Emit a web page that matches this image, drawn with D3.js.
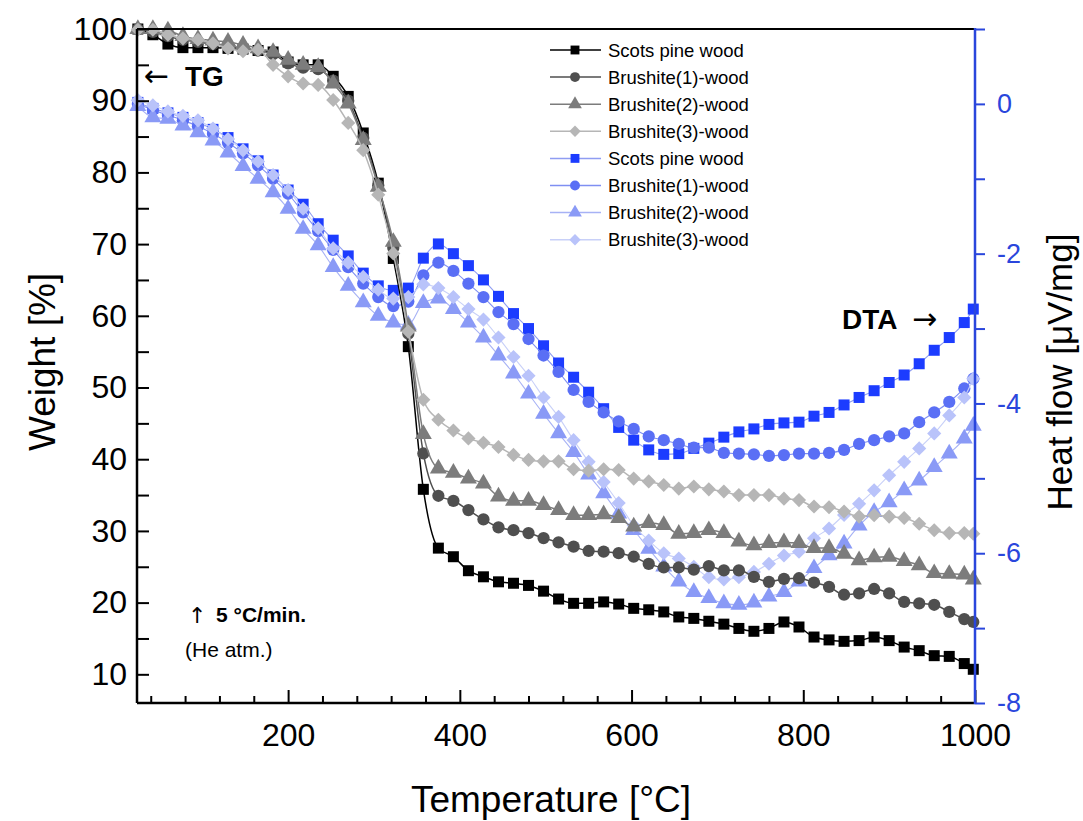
<!DOCTYPE html>
<html>
<head>
<meta charset="utf-8">
<script src="https://cdn.jsdelivr.net/npm/d3@7"></script>
<style>
  html, body { margin: 0; padding: 0; background: #fff; }
  svg { display: block; font-family: "Liberation Sans", Arial, sans-serif; }
</style>
</head>
<body>
<svg id="chart" width="1083" height="821"></svg>
<script>
// ---------------- DATA ----------------
const temperature = [25, 42.5, 60, 77.5, 95, 112.5, 130, 147.5, 165, 182.5,
  200, 217.5, 235, 252.5, 270, 287.5, 305, 322.5, 340, 357.5,
  375, 392.5, 410, 427.5, 445, 462.5, 480, 497.5, 515, 532.5,
  550, 567.5, 585, 602.5, 620, 637.5, 655, 672.5, 690, 707.5,
  725, 742.5, 760, 777.5, 795, 812.5, 830, 847.5, 865, 882.5,
  900, 917.5, 935, 952.5, 970, 987.5, 998];

const seriesNames = ["Scots pine wood", "Brushite(1)-wood", "Brushite(2)-wood", "Brushite(3)-wood"];

// TG, weight [%]
const tgScots = [100, 99.2, 97.9, 97.4, 97.4, 97.4, 97.3, 97.2, 97.0, 96.8,
  95.4, 95.0, 95.0, 93.4, 90.6, 85.5, 78.5, 68.0, 55.7, 35.8,
  27.6, 26.4, 24.45, 23.6, 22.9, 22.7, 22.4, 21.6, 20.5, 19.9,
  19.9, 20.1, 19.8, 19.2, 19.0, 18.7, 18.0, 17.8, 17.4, 17.0,
  16.4, 16.0, 16.4, 17.3, 16.6, 15.2, 14.8, 14.6, 14.7, 15.2,
  14.7, 13.8, 13.3, 12.6, 12.5, 11.5, 10.7];
const tgBrushite1 = [100, 99.6, 99.0, 98.5, 98.2, 97.9, 97.6, 97.3, 97.0, 96.5,
  95.2, 94.6, 94.4, 92.8, 90.0, 84.8, 78.2, 69.5, 57.5, 40.8,
  34.9, 34.2, 32.9, 31.6, 30.5, 30.1, 29.7, 29.0, 28.4, 27.8,
  27.2, 27.1, 26.9, 26.4, 25.4, 24.9, 24.9, 24.6, 25.1, 24.5,
  24.5, 23.6, 22.9, 23.3, 23.4, 22.8, 22.2, 21.1, 21.3, 21.9,
  21.3, 20.1, 19.9, 19.7, 18.7, 17.7, 17.3];
const tgBrushite2 = [100, 100, 99.8, 99.0, 98.6, 98.4, 98.2, 97.8, 97.3, 96.8,
  95.7, 95.0, 94.7, 92.4, 89.6, 84.5, 78.0, 70.3, 58.5, 43.5,
  38.7, 38.1, 37.3, 36.6, 34.8, 34.2, 34.2, 33.6, 32.9, 32.2,
  32.2, 32.3, 31.8, 30.6, 31.1, 30.8, 29.6, 29.7, 30.1, 29.7,
  28.5, 28.0, 28.3, 28.4, 28.3, 27.6, 27.6, 26.8, 25.9, 26.3,
  26.4, 25.8, 25.2, 24.1, 24.0, 23.9, 23.2];
const tgBrushite3 = [99.9, 99.9, 99.2, 98.7, 98.5, 98.0, 97.3, 96.9, 97.1, 95.0,
  93.4, 92.4, 92.2, 90.1, 86.9, 83.1, 76.9, 68.7, 57.8, 48.3,
  45.5, 44.0, 42.9, 42.3, 41.7, 40.6, 39.9, 39.7, 39.7, 38.6,
  38.4, 38.6, 38.5, 37.3, 36.9, 36.4, 35.9, 36.2, 35.8, 35.5,
  35.0, 35.0, 35.0, 34.5, 34.3, 33.4, 33.3, 32.7, 32.0, 32.2,
  32.0, 31.8, 31.0, 30.1, 29.7, 29.7, 29.6];

// DTA, heat flow [µV/mg]
const dtaScots = [0.02, -0.06, -0.12, -0.18, -0.25, -0.34, -0.45, -0.6, -0.76, -0.95,
  -1.15, -1.34, -1.60, -1.82, -2.03, -2.26, -2.43, -2.49, -2.46, -2.06,
  -1.87, -2.0, -2.16, -2.35, -2.57, -2.80, -3.0, -3.23, -3.46, -3.65,
  -3.85, -4.07, -4.32, -4.49, -4.62, -4.68, -4.67, -4.60, -4.53, -4.45,
  -4.38, -4.34, -4.28, -4.26, -4.25, -4.17, -4.12, -4.02, -3.92, -3.83,
  -3.72, -3.62, -3.47, -3.29, -3.12, -2.92, -2.74];
const dtaBrushite1 = [0.0, -0.08, -0.15, -0.22, -0.30, -0.40, -0.52, -0.66, -0.82, -1.0,
  -1.2, -1.45, -1.70, -1.95, -2.18, -2.40, -2.58, -2.70, -2.64, -2.29,
  -2.12, -2.23, -2.40, -2.58, -2.78, -2.94, -3.14, -3.36, -3.58, -3.82,
  -3.98, -4.12, -4.24, -4.34, -4.44, -4.49, -4.54, -4.59, -4.59, -4.66,
  -4.67, -4.68, -4.70, -4.69, -4.67, -4.67, -4.66, -4.62, -4.54, -4.49,
  -4.44, -4.40, -4.25, -4.12, -3.98, -3.80, -3.67];
const dtaBrushite2 = [-0.03, -0.18, -0.20, -0.29, -0.38, -0.49, -0.65, -0.83, -1.0, -1.18,
  -1.4, -1.67, -1.89, -2.18, -2.43, -2.65, -2.83, -2.92, -2.95, -2.66,
  -2.60, -2.74, -2.92, -3.12, -3.36, -3.60, -3.87, -4.14, -4.40, -4.65,
  -4.95, -5.2, -5.47, -5.69, -5.94, -6.18, -6.38, -6.52, -6.60, -6.67,
  -6.69, -6.66, -6.58, -6.52, -6.38, -6.20, -6.03, -5.87, -5.63, -5.45,
  -5.32, -5.16, -5.03, -4.85, -4.67, -4.47, -4.3];
const dtaBrushite3 = [0.05, -0.02, -0.1, -0.16, -0.22, -0.33, -0.47, -0.62, -0.77, -0.95,
  -1.15, -1.4, -1.66, -1.93, -2.12, -2.31, -2.48, -2.6, -2.58, -2.41,
  -2.46, -2.58, -2.74, -2.88, -3.12, -3.38, -3.63, -3.92, -4.18, -4.49,
  -4.78, -5.05, -5.33, -5.63, -5.83, -6.0, -6.07, -6.18, -6.32, -6.35,
  -6.32, -6.25, -6.14, -6.03, -5.98, -5.80, -5.67, -5.49, -5.34, -5.16,
  -4.96, -4.78, -4.60, -4.40, -4.16, -3.92, -3.67];

const xMajorTicks = [200, 400, 600, 800, 1000];
const xMinorTicks = [40, 80, 120, 160, 240, 280, 320, 360, 440, 480, 520, 560, 640, 680, 720, 760, 840, 880, 920, 960];
const yLeftTicks = [10, 20, 30, 40, 50, 60, 70, 80, 90, 100];
const yLeftMinorTicks = [15, 25, 35, 45, 55, 65, 75, 85, 95];
const yRightTicks = [-8, -6, -4, -2, 0];
const yRightMinorTicks = [-7, -5, -3, -1, 1];

// ---------------- STYLE ----------------
const tgStyles = [
  { marker: "square",   fill: "#000000", line: "#000000" },
  { marker: "circle",   fill: "#4f4f4f", line: "#4f4f4f" },
  { marker: "triangle", fill: "#7c7c7c", line: "#7c7c7c" },
  { marker: "diamond",  fill: "#b6b6b6", line: "#b6b6b6" }
];
const dtaStyles = [
  { marker: "square",   fill: "#1c3cff", line: "#8f9df2" },
  { marker: "circle",   fill: "#5a6ff5", line: "#7f8ff2" },
  { marker: "triangle", fill: "#8a9af6", line: "#a7b2f5" },
  { marker: "diamond",  fill: "#b9c3fa", line: "#c8d0f8" }
];
const blueAxis = "#2a46dc";
const arrowFont = "DejaVu Sans, sans-serif";

// ---------------- SCALES ----------------
const L = 137, R = 975, T = 29, B = 703;
const x = d3.scaleLinear().domain([24, 1000]).range([L, R]);
const yL = d3.scaleLinear().domain([6, 100]).range([B, T]);
const yR = d3.scaleLinear().domain([-8, 1]).range([B, T]);

const svg = d3.select("#chart");

function symbolPath(kind, scale) {
  const s = scale || 1;
  if (kind === "square") return d3.symbol(d3.symbolSquare, 121 * s)();
  if (kind === "circle") return d3.symbol(d3.symbolCircle, 118 * s)();
  if (kind === "triangle") return d3.symbol(d3.symbolTriangle, 125 * s)();
  return d3.symbol(d3.symbolSquare, 100 * s)(); // diamond: rotated square
}
function symbolRotate(kind) { return kind === "diamond" ? " rotate(45)" : ""; }

const tgData = [tgScots, tgBrushite1, tgBrushite2, tgBrushite3];
const dtaData = [dtaScots, dtaBrushite1, dtaBrushite2, dtaBrushite3];

function drawSeries(values, yScale, style, lineWidth) {
  const pts = temperature.map((t, i) => [t, values[i]]);
  const line = d3.line().x(d => x(d[0])).y(d => yScale(d[1])).curve(d3.curveMonotoneX);
  const g = svg.append("g");
  g.append("path").attr("d", line(pts)).attr("fill", "none")
    .attr("stroke", style.line).attr("stroke-width", lineWidth);
  g.selectAll("path.m").data(pts).enter().append("path").attr("class", "m")
    .attr("d", symbolPath(style.marker))
    .attr("transform", d => `translate(${x(d[0])},${yScale(d[1])})` + symbolRotate(style.marker))
    .attr("fill", style.fill);
}

// DTA first, then TG on top
dtaData.forEach((v, i) => drawSeries(v, yR, dtaStyles[i], 1.1));
tgData.forEach((v, i) => drawSeries(v, yL, tgStyles[i], 1.5));

// ---------------- AXES ----------------
const fontTick = 32;
const plain = d => String(d);

const gx = svg.append("g").attr("transform", `translate(0,${B})`)
  .call(d3.axisBottom(x).tickValues(xMajorTicks).tickFormat(plain).tickSizeInner(-13).tickSizeOuter(0).tickPadding(20));
gx.select(".domain").remove();
gx.selectAll(".tick line").attr("stroke", "#000").attr("stroke-width", 2);
gx.selectAll(".tick text").attr("font-size", fontTick).attr("fill", "#000")
  .attr("font-family", "Liberation Sans, Arial, sans-serif");

const gxm = svg.append("g").attr("transform", `translate(0,${B})`)
  .call(d3.axisBottom(x).tickValues(xMinorTicks).tickSizeInner(-7).tickSizeOuter(0).tickFormat(""));
gxm.select(".domain").remove();
gxm.selectAll(".tick line").attr("stroke", "#000").attr("stroke-width", 2);

const gyl = svg.append("g").attr("transform", `translate(${L},0)`)
  .call(d3.axisLeft(yL).tickValues(yLeftTicks).tickFormat(plain).tickSizeInner(-12).tickSizeOuter(0).tickPadding(10));
gyl.select(".domain").remove();
gyl.selectAll(".tick line").attr("stroke", "#000").attr("stroke-width", 2);
gyl.selectAll(".tick text").attr("font-size", fontTick).attr("fill", "#000")
  .attr("font-family", "Liberation Sans, Arial, sans-serif");

const gylm = svg.append("g").attr("transform", `translate(${L},0)`)
  .call(d3.axisLeft(yL).tickValues(yLeftMinorTicks).tickSizeInner(-12).tickSizeOuter(0).tickFormat(""));
gylm.select(".domain").remove();
gylm.selectAll(".tick line").attr("stroke", "#000").attr("stroke-width", 2);

const gyr = svg.append("g").attr("transform", `translate(${R},0)`)
  .call(d3.axisRight(yR).tickValues(yRightTicks).tickFormat(plain).tickSizeInner(10).tickSizeOuter(0).tickPadding(12));
gyr.select(".domain").remove();
gyr.selectAll(".tick line").attr("stroke", blueAxis).attr("stroke-width", 2);
gyr.selectAll(".tick text").attr("font-size", 27).attr("fill", blueAxis)
  .attr("font-family", "Liberation Sans, Arial, sans-serif");

const gyrm = svg.append("g").attr("transform", `translate(${R},0)`)
  .call(d3.axisRight(yR).tickValues(yRightMinorTicks).tickSizeInner(10).tickSizeOuter(0).tickFormat(""));
gyrm.select(".domain").remove();
gyrm.selectAll(".tick line").attr("stroke", blueAxis).attr("stroke-width", 2);

// frame
svg.append("line").attr("x1", L).attr("x2", R).attr("y1", T).attr("y2", T).attr("stroke", "#000").attr("stroke-width", 2);
svg.append("line").attr("x1", L).attr("x2", R).attr("y1", B).attr("y2", B).attr("stroke", "#000").attr("stroke-width", 2.5);
svg.append("line").attr("x1", L).attr("x2", L).attr("y1", T).attr("y2", B).attr("stroke", "#000").attr("stroke-width", 2.5);
svg.append("line").attr("x1", R).attr("x2", R).attr("y1", T - 1).attr("y2", B + 1).attr("stroke", blueAxis).attr("stroke-width", 2.5);

// axis titles
svg.append("text").attr("x", 551).attr("y", 812).attr("text-anchor", "middle")
  .attr("font-size", 37).attr("fill", "#000").text("Temperature [°C]");
svg.append("text").attr("transform", "translate(55,362) rotate(-90)").attr("text-anchor", "middle")
  .attr("font-size", 37).attr("fill", "#000").text("Weight [%]");
svg.append("text").attr("transform", "translate(1072,372) rotate(-90)").attr("text-anchor", "middle")
  .attr("font-size", 35).attr("fill", "#000").text("Heat flow [μV/mg]");

// annotations
svg.append("text").attr("x", 144).attr("y", 86).attr("font-size", 30).attr("font-family", arrowFont).attr("fill", "#000")
  .text("←");
svg.append("text").attr("x", 185).attr("y", 86).attr("font-size", 28).attr("font-weight", "bold").attr("fill", "#000")
  .text("TG");
svg.append("text").attr("x", 842).attr("y", 329).attr("font-size", 28).attr("font-weight", "bold").attr("fill", "#000")
  .text("DTA");
svg.append("text").attr("x", 912).attr("y", 329).attr("font-size", 30).attr("font-family", arrowFont).attr("fill", "#000")
  .text("→");
svg.append("text").attr("x", 188).attr("y", 623).attr("font-size", 22).attr("font-family", arrowFont).attr("fill", "#000")
  .text("↑");
svg.append("text").attr("x", 216).attr("y", 622).attr("font-size", 21).attr("font-weight", "bold").attr("fill", "#000")
  .text("5 °C/min.");
svg.append("text").attr("x", 185).attr("y", 657).attr("font-size", 21).attr("fill", "#000")
  .text("(He atm.)");

// legend
const legendRows = [];
seriesNames.forEach((n, i) => legendRows.push({ name: n, style: tgStyles[i], legendLine: tgStyles[i].line }));
seriesNames.forEach((n, i) => legendRows.push({ name: n, style: dtaStyles[i], legendLine: dtaStyles[i].line }));
const lg = svg.append("g");
legendRows.forEach((r, i) => {
  const cy = 50 + i * 27.1;
  lg.append("line").attr("x1", 550).attr("x2", 601).attr("y1", cy).attr("y2", cy)
    .attr("stroke", r.legendLine).attr("stroke-width", 1.5);
  lg.append("path").attr("d", symbolPath(r.style.marker, 0.65))
    .attr("transform", `translate(575,${cy})` + symbolRotate(r.style.marker))
    .attr("fill", r.style.fill);
  lg.append("text").attr("x", 608).attr("y", cy + 6.5).attr("font-size", 18.5).attr("fill", "#000")
    .text(r.name);
});
</script>
</body>
</html>
